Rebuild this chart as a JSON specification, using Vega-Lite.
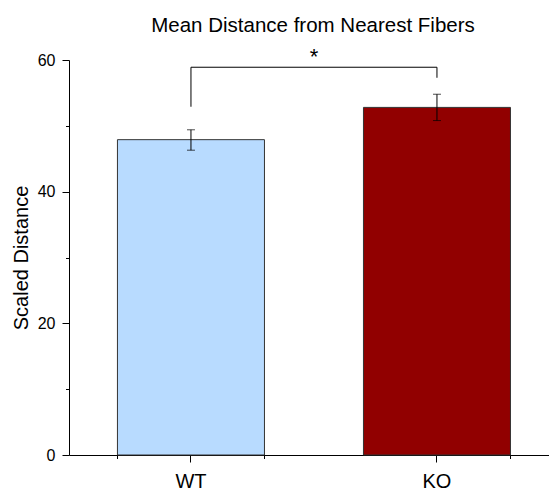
{
  "$schema": "https://vega.github.io/schema/vega-lite/v6.json",
  "width": 480,
  "height": 395,
  "autosize": {"type": "none"},
  "padding": {"left": 69, "top": 60, "right": 0, "bottom": 38},
  "background": "white",
  "config": {
    "view": {"stroke": null},
    "font": "Liberation Sans",
    "axis": {"domainColor": "black", "tickColor": "black", "labelColor": "black", "titleColor": "black", "grid": false, "domainWidth": 1, "tickWidth": 1, "labelFont": "Liberation Sans", "titleFont": "Liberation Sans"}
  },
  "title": {"text": "Mean Distance from Nearest Fibers", "fontSize": 20.5, "fontWeight": "normal", "font": "Liberation Sans", "color": "black", "offset": 10, "dx": 4},
  "datasets": {
    "bars": [
      {"group": "WT", "mean": 47.9, "lo": 46.3, "hi": 49.4},
      {"group": "KO", "mean": 52.8, "lo": 50.8, "hi": 54.8}
    ],
    "bracket": [
      {"from": "WT", "to": "KO", "top": 58.9, "label": "*", "star": 60.4}
    ],
    "legs": [
      {"group": "WT", "y1": 52.9, "y2": 58.9},
      {"group": "KO", "y1": 57.3, "y2": 58.9}
    ]
  },
  "resolve": {"axis": {"x": "independent"}},
  "layer": [
    {
      "data": {"name": "bars"},
      "mark": {"type": "bar", "stroke": "#333333", "strokeWidth": 1},
      "encoding": {
        "x": {
          "field": "group", "type": "nominal", "sort": ["WT", "KO"],
          "scale": {"domain": ["WT", "KO"], "paddingInner": 0.4024, "paddingOuter": 0.1768, "align": 0.557},
          "axis": {"title": null, "labelAngle": 0, "labelFontSize": 20, "tickSize": 7, "labelPadding": 9, "orient": "bottom"}
        },
        "y": {
          "field": "mean", "type": "quantitative",
          "scale": {"domain": [0, 60], "nice": false},
          "axis": {
            "title": "Scaled Distance", "titleFontSize": 20, "titleFontWeight": "normal", "titlePadding": 6,
            "values": [0, 10, 20, 30, 40, 50, 60],
            "labelExpr": "datum.value % 20 === 0 ? datum.label : ''",
            "labelFontSize": 16, "labelPadding": 7,
            "tickSize": {"condition": {"test": "datum.value % 20 === 0", "value": 7}, "value": 3.5}
          }
        },
        "color": {"field": "group", "type": "nominal", "scale": {"domain": ["WT", "KO"], "range": ["#B8DBFF", "#910000"]}, "legend": null}
      }
    },
    {
      "data": {"name": "bars"},
      "mark": {"type": "rule", "color": "black", "strokeWidth": 1},
      "encoding": {
        "x": {"field": "group", "type": "nominal", "sort": ["WT", "KO"],
          "axis": {"title": null, "labels": false, "domain": false, "tickSize": 3.5, "tickBand": "extent", "orient": "bottom"}},
        "y": {"field": "lo", "type": "quantitative"},
        "y2": {"field": "hi"}
      }
    },
    {
      "data": {"name": "bars"},
      "mark": {"type": "tick", "color": "black", "size": 8, "thickness": 1},
      "encoding": {
        "x": {"field": "group", "type": "nominal", "sort": ["WT", "KO"], "axis": null},
        "y": {"field": "lo", "type": "quantitative"}
      }
    },
    {
      "data": {"name": "bars"},
      "mark": {"type": "tick", "color": "black", "size": 8, "thickness": 1},
      "encoding": {
        "x": {"field": "group", "type": "nominal", "sort": ["WT", "KO"], "axis": null},
        "y": {"field": "hi", "type": "quantitative"}
      }
    },
    {
      "data": {"name": "bracket"},
      "mark": {"type": "rule", "color": "black", "strokeWidth": 1},
      "encoding": {
        "x": {"field": "from", "type": "nominal", "axis": null},
        "x2": {"field": "to"},
        "y": {"field": "top", "type": "quantitative"}
      }
    },
    {
      "data": {"name": "legs"},
      "mark": {"type": "rule", "color": "black", "strokeWidth": 1},
      "encoding": {
        "x": {"field": "group", "type": "nominal", "axis": null},
        "y": {"field": "y1", "type": "quantitative"},
        "y2": {"field": "y2"}
      }
    },
    {
      "data": {"name": "bracket"},
      "mark": {"type": "text", "fontSize": 22, "color": "black", "dx": 123, "baseline": "middle", "clip": false},
      "encoding": {
        "x": {"field": "from", "type": "nominal", "axis": null},
        "y": {"field": "star", "type": "quantitative"},
        "text": {"field": "label"}
      }
    }
  ]
}
